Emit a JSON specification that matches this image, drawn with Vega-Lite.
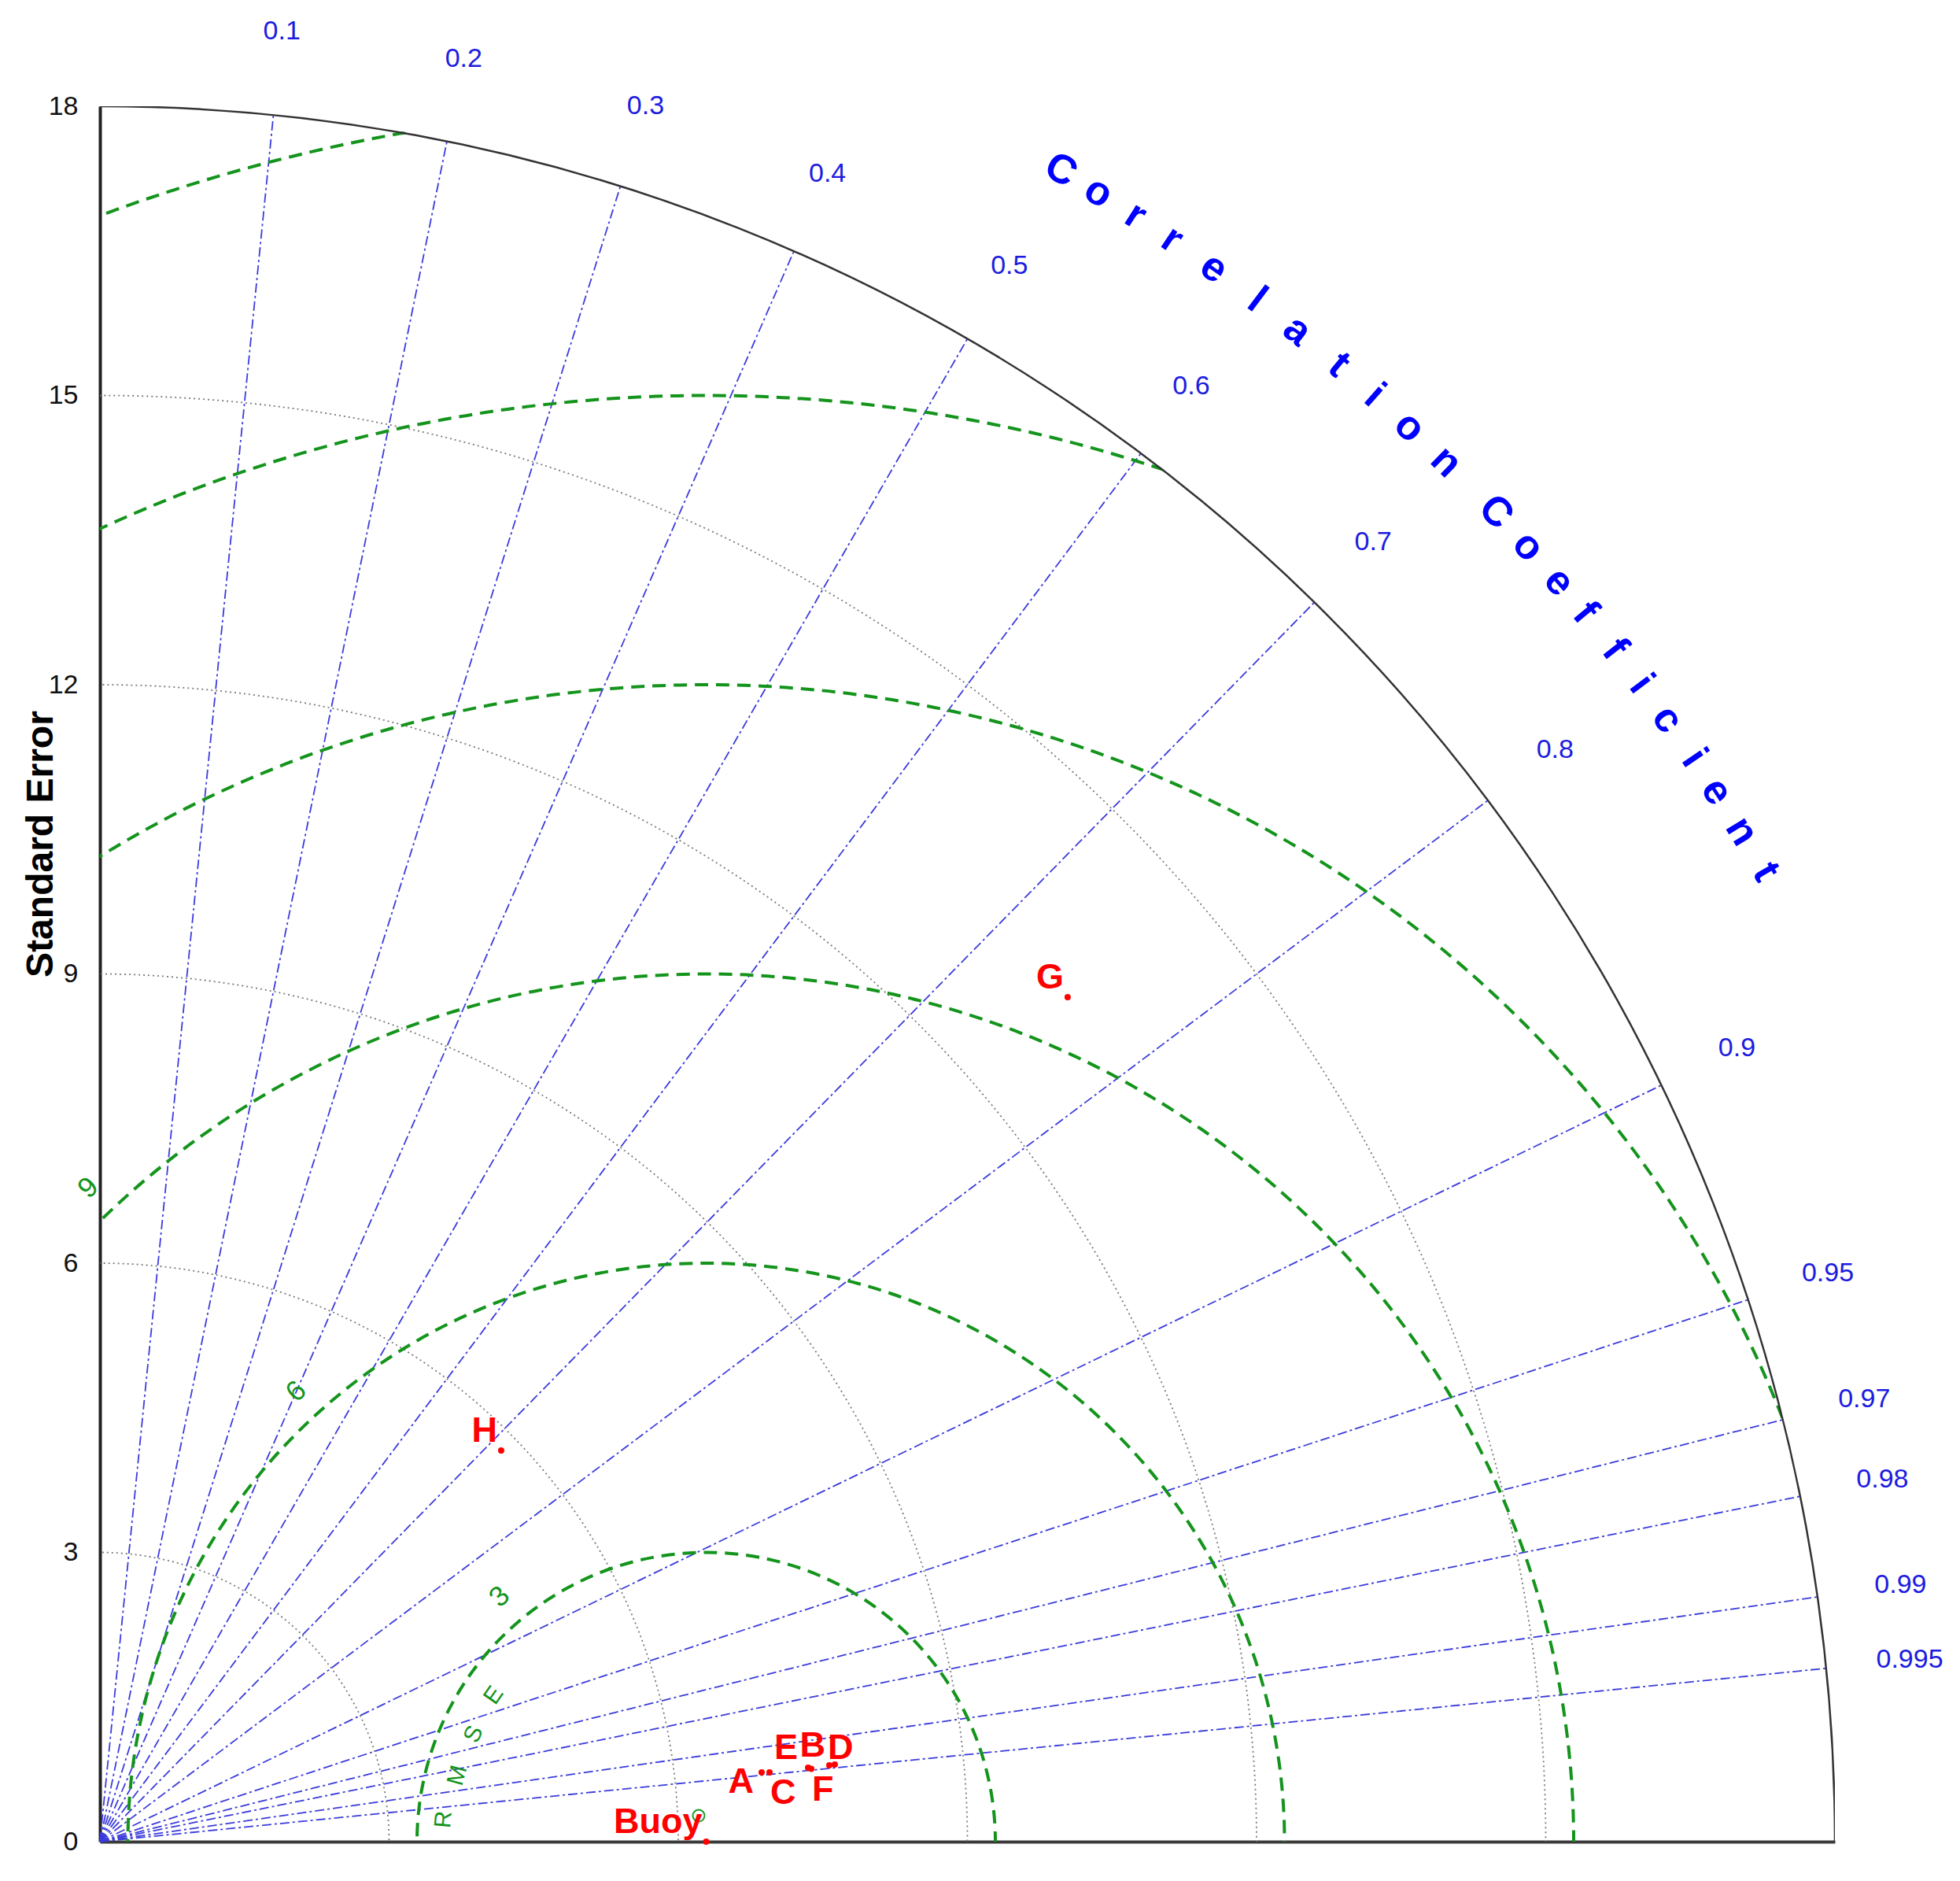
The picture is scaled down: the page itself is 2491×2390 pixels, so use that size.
{
  "$schema": "https://vega.github.io/schema/vega-lite/v6.json",
  "width": 2205,
  "height": 2205,
  "autosize": {"type": "none"},
  "padding": {"left": 127, "top": 135, "right": 159, "bottom": 50},
  "background": "white",
  "config": {"view": {"stroke": null}, "font": "Liberation Sans"},
  "datasets": {
    "stdCircles": [
      {"r": 3, "cx": 0, "cy": 0}, {"r": 6, "cx": 0, "cy": 0}, {"r": 9, "cx": 0, "cy": 0},
      {"r": 12, "cx": 0, "cy": 0}, {"r": 15, "cx": 0, "cy": 0}
    ],
    "outer": [{"r": 18, "cx": 0, "cy": 0}],
    "maskRing": [{"r": 21.755, "cx": 0, "cy": 0}],
    "rmse": [
      {"r": 3, "cx": 6.29, "cy": 0}, {"r": 6, "cx": 6.29, "cy": 0}, {"r": 9, "cx": 6.29, "cy": 0},
      {"r": 12, "cx": 6.29, "cy": 0}, {"r": 15, "cx": 6.29, "cy": 0}, {"r": 18, "cx": 6.29, "cy": 0}
    ],
    "rays": [
      {"c": 0.1, "x0": 0, "y0": 0, "x": 1.8, "y": 17.91}, {"c": 0.2, "x0": 0, "y0": 0, "x": 3.6, "y": 17.636},
      {"c": 0.3, "x0": 0, "y0": 0, "x": 5.4, "y": 17.171}, {"c": 0.4, "x0": 0, "y0": 0, "x": 7.2, "y": 16.497},
      {"c": 0.5, "x0": 0, "y0": 0, "x": 9.0, "y": 15.588}, {"c": 0.6, "x0": 0, "y0": 0, "x": 10.8, "y": 14.4},
      {"c": 0.7, "x0": 0, "y0": 0, "x": 12.6, "y": 12.855}, {"c": 0.8, "x0": 0, "y0": 0, "x": 14.4, "y": 10.8},
      {"c": 0.9, "x0": 0, "y0": 0, "x": 16.2, "y": 7.846}, {"c": 0.95, "x0": 0, "y0": 0, "x": 17.1, "y": 5.621},
      {"c": 0.97, "x0": 0, "y0": 0, "x": 17.46, "y": 4.376}, {"c": 0.98, "x0": 0, "y0": 0, "x": 17.64, "y": 3.582},
      {"c": 0.99, "x0": 0, "y0": 0, "x": 17.82, "y": 2.539}, {"c": 0.995, "x0": 0, "y0": 0, "x": 17.91, "y": 1.798}
    ],
    "corrLabels": [
      {"label": "0.1", "x": 1.887, "y": 18.775}, {"label": "0.2", "x": 3.774, "y": 18.489},
      {"label": "0.3", "x": 5.661, "y": 18.001}, {"label": "0.4", "x": 7.548, "y": 17.295},
      {"label": "0.5", "x": 9.435, "y": 16.342}, {"label": "0.6", "x": 11.322, "y": 15.096},
      {"label": "0.7", "x": 13.209, "y": 13.476}, {"label": "0.8", "x": 15.096, "y": 11.322},
      {"label": "0.9", "x": 16.983, "y": 8.225}, {"label": "0.95", "x": 17.927, "y": 5.892},
      {"label": "0.97", "x": 18.304, "y": 4.587}, {"label": "0.98", "x": 18.493, "y": 3.755},
      {"label": "0.99", "x": 18.681, "y": 2.662}, {"label": "0.995", "x": 18.776, "y": 1.885}
    ],
    "corrTitle": [
      {"ch": "C", "x": 9.970, "y": 17.338, "rot": 29.9},
      {"ch": "o", "x": 10.360, "y": 17.108, "rot": 31.2},
      {"ch": "r", "x": 10.746, "y": 16.868, "rot": 32.5},
      {"ch": "r", "x": 11.126, "y": 16.620, "rot": 33.8},
      {"ch": "e", "x": 11.558, "y": 16.322, "rot": 35.3},
      {"ch": "l", "x": 12.008, "y": 15.994, "rot": 36.9},
      {"ch": "a", "x": 12.422, "y": 15.674, "rot": 38.4},
      {"ch": "t", "x": 12.856, "y": 15.320, "rot": 40.0},
      {"ch": "i", "x": 13.226, "y": 15.002, "rot": 41.4},
      {"ch": "o", "x": 13.588, "y": 14.674, "rot": 42.8},
      {"ch": "n", "x": 13.968, "y": 14.314, "rot": 44.3},
      {"ch": "C", "x": 14.484, "y": 13.792, "rot": 46.4},
      {"ch": "o", "x": 14.818, "y": 13.434, "rot": 47.8},
      {"ch": "e", "x": 15.140, "y": 13.068, "rot": 49.2},
      {"ch": "f", "x": 15.410, "y": 12.748, "rot": 50.4},
      {"ch": "f", "x": 15.718, "y": 12.368, "rot": 51.8},
      {"ch": "i", "x": 15.994, "y": 12.008, "rot": 53.1},
      {"ch": "c", "x": 16.262, "y": 11.642, "rot": 54.4},
      {"ch": "i", "x": 16.542, "y": 11.242, "rot": 55.8},
      {"ch": "e", "x": 16.774, "y": 10.892, "rot": 57.0},
      {"ch": "n", "x": 17.034, "y": 10.480, "rot": 58.4},
      {"ch": "t", "x": 17.286, "y": 10.060, "rot": 59.8}
    ],
    "rmseLabels": [
      {"label": "3", "x": 4.147, "y": 2.539},
      {"label": "6", "x": 2.037, "y": 4.669},
      {"label": "9", "x": -0.12, "y": 6.78}
    ],
    "rmseTitle": [
      {"ch": "R", "x": 3.567, "y": 0.229, "rot": -85},
      {"ch": "M", "x": 3.710, "y": 0.686, "rot": -75},
      {"ch": "S", "x": 3.878, "y": 1.114, "rot": -65},
      {"ch": "E", "x": 4.086, "y": 1.518, "rot": -55}
    ],
    "refMark": [{"x": 6.212, "y": 0.269}],
    "pts": [
      {"name": "Buoy", "x": 6.29, "y": 0.0},
      {"name": "A", "x": 6.865, "y": 0.718},
      {"name": "C", "x": 6.947, "y": 0.718},
      {"name": "E", "x": 7.347, "y": 0.767},
      {"name": "F", "x": 7.38, "y": 0.755},
      {"name": "B", "x": 7.567, "y": 0.792},
      {"name": "D", "x": 7.624, "y": 0.8},
      {"name": "G", "x": 10.04, "y": 8.76},
      {"name": "H", "x": 4.163, "y": 4.057}
    ]
  },
  "layer": [
    {
      "data": {"name": "stdCircles"},
      "mark": {"type": "point", "shape": "circle", "filled": false, "color": "#7a7a7a", "stroke": "#7a7a7a", "strokeWidth": 1.8, "strokeDash": [2, 4], "opacity": 1, "clip": true},
      "encoding": {
        "x": {"field": "cx", "type": "quantitative", "scale": {"domain": [0, 18], "nice": false, "zero": false},
          "axis": {"labels": false, "ticks": false, "title": null, "grid": false, "domainColor": "#3a3a3a", "domainWidth": 4}},
        "y": {"field": "cy", "type": "quantitative", "scale": {"domain": [0, 18], "nice": false, "zero": false},
          "axis": {"values": [0, 3, 6, 9, 12, 15, 18], "format": "d", "ticks": false, "tickSize": 0, "grid": false, "labelPadding": 28, "labelFontSize": 34, "labelFont": "Liberation Sans", "labelColor": "#111111", "labelFlush": false, "labelOverlap": false, "domainColor": "#222222", "domainWidth": 4,
            "title": "Standard Error", "titleFont": "Liberation Sans", "titleFontSize": 48, "titleFontWeight": "bold", "titleColor": "#000000", "titleAngle": -90, "titleX": -75, "titleY": 937, "titleAlign": "center", "titleBaseline": "middle"}},
        "size": {"field": "r", "type": "quantitative", "scale": {"type": "pow", "exponent": 2, "domain": [0, 18], "range": [0, 19448100]}, "legend": null}
      }
    },
    {
      "data": {"name": "rays"},
      "mark": {"type": "rule", "color": "#3c3cdc", "strokeWidth": 1.8, "strokeDash": [12, 4, 3, 4]},
      "encoding": {
        "x": {"field": "x0", "type": "quantitative"},
        "y": {"field": "y0", "type": "quantitative"},
        "x2": {"field": "x"},
        "y2": {"field": "y"}
      }
    },
    {
      "data": {"name": "rmse"},
      "mark": {"type": "point", "shape": "circle", "filled": false, "color": "#14941c", "stroke": "#14941c", "strokeWidth": 4, "strokeDash": [17, 10], "opacity": 1, "clip": true},
      "encoding": {
        "x": {"field": "cx", "type": "quantitative"},
        "y": {"field": "cy", "type": "quantitative"},
        "size": {"field": "r", "type": "quantitative", "legend": null}
      }
    },
    {
      "data": {"name": "maskRing"},
      "mark": {"type": "point", "shape": "circle", "filled": false, "color": "#ffffff", "stroke": "#ffffff", "strokeWidth": 920, "opacity": 1, "clip": true},
      "encoding": {
        "x": {"field": "cx", "type": "quantitative"},
        "y": {"field": "cy", "type": "quantitative"},
        "size": {"field": "r", "type": "quantitative", "legend": null}
      }
    },
    {
      "data": {"name": "outer"},
      "mark": {"type": "point", "shape": "circle", "filled": false, "color": "#333333", "stroke": "#333333", "strokeWidth": 2.5, "opacity": 1, "clip": true},
      "encoding": {
        "x": {"field": "cx", "type": "quantitative"},
        "y": {"field": "cy", "type": "quantitative"},
        "size": {"field": "r", "type": "quantitative", "legend": null}
      }
    },
    {
      "data": {"name": "refMark"},
      "mark": {"type": "point", "shape": "circle", "filled": false, "color": "#1a9a2a", "strokeWidth": 2, "size": 225, "opacity": 1},
      "encoding": {
        "x": {"field": "x", "type": "quantitative"},
        "y": {"field": "y", "type": "quantitative"}
      }
    },
    {
      "data": {"name": "pts"},
      "mark": {"type": "point", "shape": "circle", "filled": true, "color": "#ff0000", "size": 64, "opacity": 1, "strokeWidth": 0},
      "encoding": {
        "x": {"field": "x", "type": "quantitative"},
        "y": {"field": "y", "type": "quantitative"}
      }
    },
    {
      "data": {"name": "pts"},
      "transform": [{"filter": {"field": "name", "oneOf": ["Buoy", "B", "G", "H"]}}],
      "mark": {"type": "text", "font": "Liberation Sans", "fontWeight": "bold", "fontSize": 45, "color": "#ff0000", "align": "right", "baseline": "alphabetic", "dx": -5, "dy": -11},
      "encoding": {
        "x": {"field": "x", "type": "quantitative"},
        "y": {"field": "y", "type": "quantitative"},
        "text": {"field": "name", "type": "nominal"}
      }
    },
    {
      "data": {"name": "pts"},
      "transform": [{"filter": {"field": "name", "equal": "E"}}],
      "mark": {"type": "text", "font": "Liberation Sans", "fontWeight": "bold", "fontSize": 45, "color": "#ff0000", "align": "right", "baseline": "alphabetic", "dx": -13, "dy": -11},
      "encoding": {
        "x": {"field": "x", "type": "quantitative"},
        "y": {"field": "y", "type": "quantitative"},
        "text": {"field": "name", "type": "nominal"}
      }
    },
    {
      "data": {"name": "pts"},
      "transform": [{"filter": {"field": "name", "equal": "A"}}],
      "mark": {"type": "text", "font": "Liberation Sans", "fontWeight": "bold", "fontSize": 45, "color": "#ff0000", "align": "right", "baseline": "alphabetic", "dx": -10, "dy": 26},
      "encoding": {
        "x": {"field": "x", "type": "quantitative"},
        "y": {"field": "y", "type": "quantitative"},
        "text": {"field": "name", "type": "nominal"}
      }
    },
    {
      "data": {"name": "pts"},
      "transform": [{"filter": {"field": "name", "oneOf": ["C", "F"]}}],
      "mark": {"type": "text", "font": "Liberation Sans", "fontWeight": "bold", "fontSize": 45, "color": "#ff0000", "align": "left", "baseline": "alphabetic", "dx": 1, "dy": 40},
      "encoding": {
        "x": {"field": "x", "type": "quantitative"},
        "y": {"field": "y", "type": "quantitative"},
        "text": {"field": "name", "type": "nominal"}
      }
    },
    {
      "data": {"name": "pts"},
      "transform": [{"filter": {"field": "name", "equal": "D"}}],
      "mark": {"type": "text", "font": "Liberation Sans", "fontWeight": "bold", "fontSize": 45, "color": "#ff0000", "align": "left", "baseline": "alphabetic", "dx": -9, "dy": -7},
      "encoding": {
        "x": {"field": "x", "type": "quantitative"},
        "y": {"field": "y", "type": "quantitative"},
        "text": {"field": "name", "type": "nominal"}
      }
    },
    {
      "data": {"name": "corrLabels"},
      "mark": {"type": "text", "font": "Liberation Sans", "fontSize": 34, "color": "#1c1ce0", "align": "center", "baseline": "middle"},
      "encoding": {
        "x": {"field": "x", "type": "quantitative"},
        "y": {"field": "y", "type": "quantitative"},
        "text": {"field": "label", "type": "nominal"}
      }
    },
    {
      "data": {"name": "corrTitle"},
      "mark": {"type": "text", "font": "Liberation Sans", "fontWeight": "bold", "fontSize": 52, "color": "#0000ff", "align": "center", "baseline": "middle"},
      "encoding": {
        "x": {"field": "x", "type": "quantitative"},
        "y": {"field": "y", "type": "quantitative"},
        "text": {"field": "ch", "type": "nominal"},
        "angle": {"field": "rot", "type": "quantitative", "scale": null}
      }
    },
    {
      "data": {"name": "rmseLabels"},
      "mark": {"type": "text", "font": "Liberation Sans", "fontSize": 36, "color": "#14941c", "align": "center", "baseline": "middle", "angle": -43},
      "encoding": {
        "x": {"field": "x", "type": "quantitative"},
        "y": {"field": "y", "type": "quantitative"},
        "text": {"field": "label", "type": "nominal"}
      }
    },
    {
      "data": {"name": "rmseTitle"},
      "mark": {"type": "text", "font": "Liberation Sans", "fontSize": 30, "color": "#14941c", "align": "center", "baseline": "middle"},
      "encoding": {
        "x": {"field": "x", "type": "quantitative"},
        "y": {"field": "y", "type": "quantitative"},
        "text": {"field": "ch", "type": "nominal"},
        "angle": {"field": "rot", "type": "quantitative", "scale": null}
      }
    }
  ]
}
